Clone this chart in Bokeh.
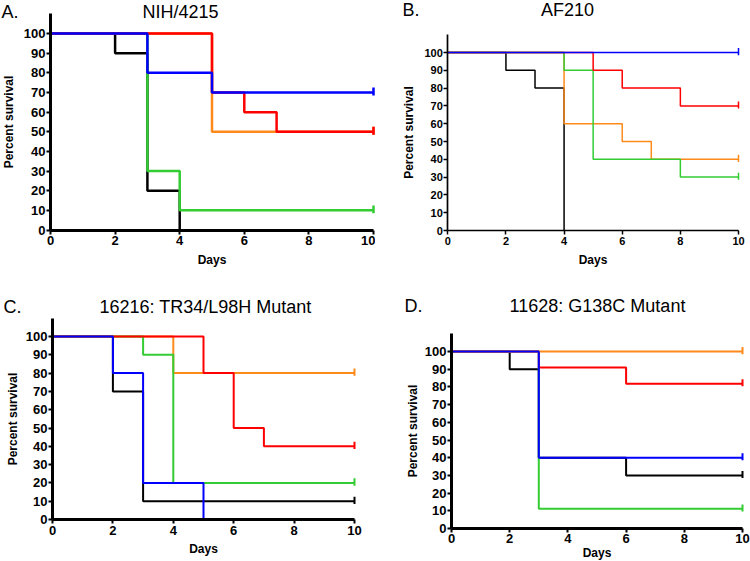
from bokeh.plotting import figure
from bokeh.layouts import column, row
from bokeh.models import Label, FixedTicker, Range1d
from bokeh.embed import file_html
from bokeh.resources import INLINE

# ---------------- data ----------------
BLACK = "#000000"
ORANGE = "#ff8a1c"
GREEN = "#33cc33"
RED = "#ff0000"
BLUE = "#0000ff"

x_ticks = [0, 2, 4, 6, 8, 10]
y_ticks = [0, 10, 20, 30, 40, 50, 60, 70, 80, 90, 100]

# Panel A: NIH/4215
a_black_days = [0, 2, 3, 4]
a_black_surv = [100, 90, 20, 0]
a_orange_days = [0, 5, 10]
a_orange_surv = [100, 50, 50]
a_green_days = [0, 3, 4, 10]
a_green_surv = [100, 30, 10, 10]
a_red_days = [0, 5, 6, 7, 10]
a_red_surv = [100, 70, 60, 50, 50]
a_blue_days = [0, 3, 5, 10]
a_blue_surv = [100, 80, 70, 70]

# Panel B: AF210
b_black_days = [0, 2, 3, 4]
b_black_surv = [100, 90, 80, 0]
b_orange_days = [0, 4, 6, 7, 10]
b_orange_surv = [100, 60, 50, 40, 40]
b_green_days = [0, 4, 5, 8, 10]
b_green_surv = [100, 90, 40, 30, 30]
b_red_days = [0, 5, 6, 8, 10]
b_red_surv = [100, 90, 80, 70, 70]
b_blue_days = [0, 10]
b_blue_surv = [100, 100]

# Panel C: 16216: TR34/L98H Mutant
c_black_days = [0, 2, 3, 10]
c_black_surv = [100, 70, 10, 10]
c_orange_days = [0, 4, 10]
c_orange_surv = [100, 80, 80]
c_green_days = [0, 3, 4, 10]
c_green_surv = [100, 90, 20, 20]
c_red_days = [0, 5, 6, 7, 10]
c_red_surv = [100, 80, 50, 40, 40]
c_blue_days = [0, 2, 3, 5]
c_blue_surv = [100, 80, 20, 0]

# Panel D: 11628: G138C Mutant
d_black_days = [0, 2, 3, 6, 10]
d_black_surv = [100, 90, 40, 30, 30]
d_green_days = [0, 3, 10]
d_green_surv = [100, 11.1, 11.1]
d_red_days = [0, 3, 6, 10]
d_red_surv = [100, 90.9, 81.8, 81.8]
d_orange_days = [0, 10]
d_orange_surv = [100, 100]
d_blue_days = [0, 3, 10]
d_blue_surv = [100, 40, 40]

# ---------------- layout helpers ----------------
FONT = "Liberation Sans"
FW, FH = 375, 280
X_END = 10
Y_END = 110


def make_panel(origin, frame, lw, axis_w, tick_size, y_stand, x_lab_stand, x_stand,
               curves, letter, letter_pos, title, title_pos):
    ox, oy = origin
    L, R, T, B = frame            # pixel position of x=0, x=10, y=110, y=0
    kx = X_END / (R - L)          # data units per pixel
    ky = Y_END / (B - T)
    x0 = -(L - ox) * kx
    x1 = X_END + (ox + FW - R) * kx
    y0 = -(oy + FH - B) * ky
    y1 = Y_END + (T - oy) * ky
    p = figure(width=FW, height=FH, output_backend="svg", toolbar_location=None,
               x_range=Range1d(x0, x1), y_range=Range1d(y0, y1),
               min_border=0, min_border_left=0, min_border_right=0,
               min_border_top=0, min_border_bottom=0)
    p.title.visible = False
    p.outline_line_color = None
    p.xgrid.visible = False
    p.ygrid.visible = False
    p.background_fill_color = "white"
    p.border_fill_color = "white"

    for days, surv, color in curves:
        p.step(days, surv, mode="after", line_color=color, line_width=lw)
        if surv[-1] > 0 and days[-1] == X_END:
            p.segment(x0=[days[-1]], y0=[surv[-1] - 1.5], x1=[days[-1]],
                      y1=[surv[-1] + 2.5], line_color=color, line_width=lw)

    for ax in (p.xaxis[0], p.yaxis[0]):
        ax.fixed_location = 0
        ax.axis_line_width = axis_w
        ax.axis_line_color = "black"
        ax.major_tick_line_width = max(1.5, axis_w - 1)
        ax.major_tick_line_color = "black"
        ax.major_tick_out = 4
        ax.major_tick_in = 0
        ax.minor_tick_line_color = None
        ax.major_label_text_font = FONT
        ax.major_label_text_font_style = "bold"
        ax.major_label_text_font_size = tick_size
        ax.major_label_text_color = "black"
        ax.axis_label_text_font = FONT
        ax.axis_label_text_font_style = "bold"
        ax.axis_label_text_font_size = "12px"
        ax.axis_label_text_color = "black"
    p.xaxis.bounds = (0, X_END)
    p.yaxis.bounds = (0, Y_END)
    p.xaxis.ticker = FixedTicker(ticks=x_ticks)
    p.yaxis.ticker = FixedTicker(ticks=y_ticks)
    p.xaxis.axis_label = "Days"
    p.yaxis.axis_label = "Percent survival"
    p.xaxis.major_label_standoff = int(x_stand)
    p.yaxis.major_label_standoff = 1
    p.xaxis.axis_label_standoff = int(x_lab_stand)
    p.yaxis.axis_label_standoff = int(y_stand)

    def to_data(px, py):
        return ((px - L) * kx, (B - py) * ky)

    lx, ly = to_data(*letter_pos)
    p.add_layout(Label(x=lx, y=ly, text=letter, text_font=FONT,
                       text_font_size="18px", text_align="left",
                       text_baseline="middle", text_color="black"))
    tx, ty = to_data(*title_pos)
    p.add_layout(Label(x=tx, y=ty, text=title, text_font=FONT,
                       text_font_size="18px", text_align="center",
                       text_baseline="middle", text_color="black"))
    return p


pa = make_panel((0, 0), (50, 373, 13.4, 229.5), 2.5, 3, "13px", 5, 4, 2,
                [(a_black_days, a_black_surv, BLACK),
                 (a_orange_days, a_orange_surv, ORANGE),
                 (a_green_days, a_green_surv, GREEN),
                 (a_red_days, a_red_surv, RED),
                 (a_blue_days, a_blue_surv, BLUE)],
                "A.", (1, 11), "NIH/4215", (180, 11))

pb = make_panel((375, 0), (447.3, 738, 34.2, 230), 1.5, 1.7, "11px", 5, 5, 2,
                [(b_black_days, b_black_surv, BLACK),
                 (b_orange_days, b_orange_surv, ORANGE),
                 (b_green_days, b_green_surv, GREEN),
                 (b_red_days, b_red_surv, RED),
                 (b_blue_days, b_blue_surv, BLUE)],
                "B.", (402, 9), "AF210", (567, 9))

pc = make_panel((0, 280), (52, 354, 317.7, 519), 2, 3, "13px", 3, 4, 2,
                [(c_black_days, c_black_surv, BLACK),
                 (c_orange_days, c_orange_surv, ORANGE),
                 (c_green_days, c_green_surv, GREEN),
                 (c_red_days, c_red_surv, RED),
                 (c_blue_days, c_blue_surv, BLUE)],
                "C.", (3, 306), "16216: TR34/L98H Mutant", (205, 306))

pd_ = make_panel((375, 280), (451, 742, 333.3, 528), 2, 3, "13px", 2, 0, 1,
                 [(d_black_days, d_black_surv, BLACK),
                  (d_green_days, d_green_surv, GREEN),
                  (d_red_days, d_red_surv, RED),
                  (d_orange_days, d_orange_surv, ORANGE),
                  (d_blue_days, d_blue_surv, BLUE)],
                 "D.", (404, 305), "11628: G138C Mutant", (597, 305))

layout = column(row(column(pa), column(pb)), row(column(pc), column(pd_)))

open("out.html", "w").write(file_html(layout, INLINE))
